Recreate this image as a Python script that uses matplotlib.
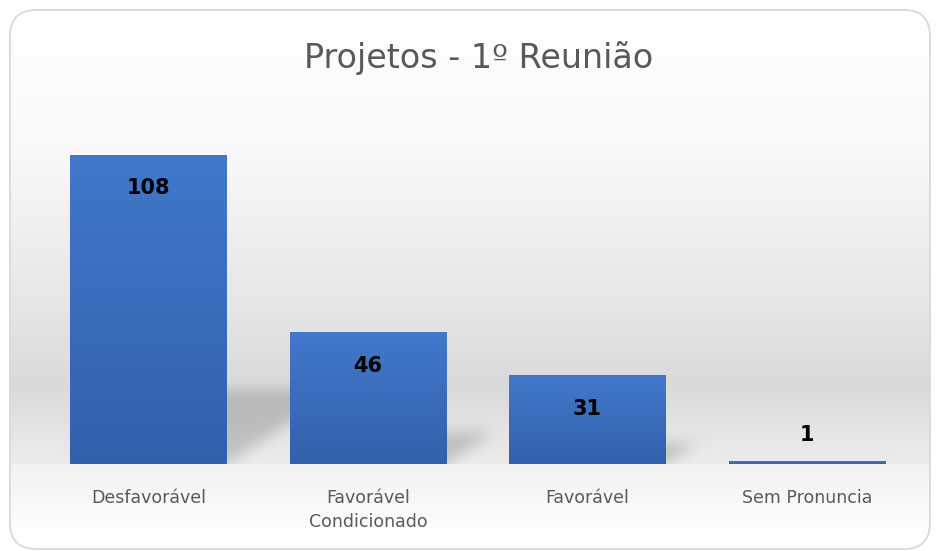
import numpy as np
import matplotlib
matplotlib.use("Agg")
import matplotlib.pyplot as plt
from matplotlib.patches import FancyBboxPatch, Rectangle
from matplotlib.path import Path

categories = ["Desfavorável", "Favorável\nCondicionado", "Favorável", "Sem Pronuncia"]
values = [108, 46, 31, 1]
title = "Projetos - 1º Reunião"

W, H, DPI = 940, 551, 100
FONT = ["DejaVu Sans"]

fig = plt.figure(figsize=(W / DPI, H / DPI), dpi=DPI)
fig.patch.set_facecolor("white")

# background axes (pixel space)
bg = fig.add_axes([0, 0, 1, 1], zorder=-10)
bg.set_xlim(0, W)
bg.set_ylim(H, 0)
bg.axis("off")

ax = fig.add_axes([38.75 / W, (H - 464) / H, 878 / W, 343.3 / H], zorder=1)
ax.set_facecolor("none")
x = np.arange(len(values))
ax.set_xlim(-0.5, len(values) - 0.5)
ax.set_ylim(0, 120)
for s in ax.spines.values():
    s.set_visible(False)
ax.set_yticks([])
ax.set_xticks(x)
ax.set_xticklabels(categories, fontsize=12.5, color="#595959", family=FONT,
                   linespacing=1.45)
ax.tick_params(axis="x", length=0, pad=18)
for lbl in ax.get_xticklabels():
    lbl.set_verticalalignment("top")

bw = 0.715
bars = ax.bar(x, values, width=bw, color="none", edgecolor="none")

fig.canvas.draw()
base_px = H - ax.transData.transform((0, 0))[1]

# background gradient image
yy = np.arange(H).astype(float)
g = np.interp(yy, [0, 20, 150, 300, 385, base_px - 1, base_px, H - 10, H],
              [1.0, 1.0, 0.975, 0.905, 0.855, 0.925, 0.95, 1.0, 1.0])
img = np.repeat(g[:, None, None], 3, axis=2) * np.ones((1, W, 1))

# shadows
XX, YY = np.meshgrid(np.arange(W) + 0.5, np.arange(H) + 0.5)
pts = np.column_stack([XX.ravel(), YY.ravel()])
mask = np.zeros((H, W))
for xi, v in zip(x, values):
    x0 = ax.transData.transform((xi - bw / 2, 0))[0]
    x1 = ax.transData.transform((xi + bw / 2, 0))[0]
    htop = H - ax.transData.transform((0, v))[1]
    hpx = base_px - htop
    dy = 0.24 * hpx
    sk = 1.5
    poly = Path([(x0, base_px), (x1, base_px), (x1 + sk * dy, base_px - dy),
                 (x0 + sk * dy, base_px - dy), (x0, base_px)])
    m = poly.contains_points(pts).reshape(H, W).astype(float)
    mask = np.maximum(mask, m)

def box_blur(a, r, axis):
    k = np.ones(2 * r + 1) / (2 * r + 1)
    return np.apply_along_axis(lambda v: np.convolve(v, k, mode="same"), axis, a)

for _ in range(3):
    mask = box_blur(mask, 6, 0)
    mask = box_blur(mask, 6, 1)
mask[YY > base_px] = 0
img = img * (1 - 0.17 * mask[:, :, None])

bgim = bg.imshow(img, extent=(0, W, H, 0), aspect="auto", zorder=0, interpolation="bilinear")

frame = FancyBboxPatch((10, 10), W - 20, H - 12, boxstyle="round,pad=0,rounding_size=26",
                       facecolor="none", edgecolor="#d9d9d9", linewidth=1.3, zorder=3)
bg.add_patch(frame)
bgim.set_clip_path(frame)

# bars with vertical gradient
grad = np.linspace(0, 1, 256)[:, None]
c_top = np.array([0x42, 0x78, 0xCA]) / 255
c_bot = np.array([0x33, 0x60, 0xAB]) / 255
gimg = c_top[None, None, :] * (1 - grad[:, :, None]) + c_bot[None, None, :] * grad[:, :, None]
for b in bars:
    bx, by, bwid, bh = b.get_x(), b.get_y(), b.get_width(), b.get_height()
    im = ax.imshow(gimg, extent=(bx, bx + bwid, by, by + bh), aspect="auto",
                   origin="upper", zorder=2, interpolation="bilinear")
    clip = Rectangle((bx, by), bwid, bh, transform=ax.transData)
    im.set_clip_path(clip)
ax.set_xlim(-0.5, len(values) - 0.5)
ax.set_ylim(0, 120)

# data labels
for xi, v in zip(x, values):
    off = -24 if v > 10 else 19
    ax.annotate(str(v), (xi, v), xytext=(0, off), textcoords="offset points",
                ha="center", va="center", fontsize=15, fontweight="bold",
                color="black", family=FONT, zorder=4)

fig.text(479 / W, 1 - 58 / H, title, ha="center", va="center", fontsize=24,
         color="#595959", family=FONT)

fig.savefig("out.png", dpi=DPI)
